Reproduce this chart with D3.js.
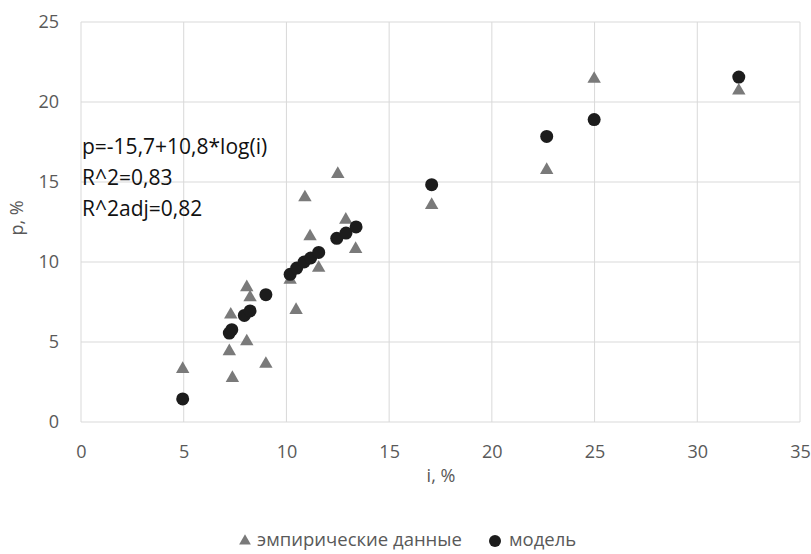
<!DOCTYPE html>
<html>
<head>
<meta charset="utf-8">
<script src="https://cdn.jsdelivr.net/npm/d3@7"></script>
<style>
  body { margin: 0; background: #fff; }
  svg { font-family: "Open Sans", "Liberation Sans", sans-serif; }
</style>
</head>
<body>
<svg id="chart" width="811" height="554"></svg>
<script>
// empirical data (triangles)
const empI = [4.95, 7.22, 7.29, 7.37, 8.07, 8.07, 8.23, 9.0, 10.18, 10.47, 10.9, 11.15, 11.57, 12.5, 12.89, 13.37, 17.07, 22.67, 24.98, 32.02];
const empP = [3.37, 4.48, 6.77, 2.81, 8.48, 5.1, 7.85, 3.69, 8.94, 7.06, 14.1, 11.66, 9.69, 15.56, 12.7, 10.87, 13.62, 15.81, 21.5, 20.77];
// model (circles)
const modI = [4.95, 7.22, 7.34, 7.95, 8.23, 9.0, 10.18, 10.5, 10.86, 11.18, 11.57, 12.45, 12.9, 13.39, 17.07, 22.67, 24.98, 32.02];
const modP = [1.44, 5.56, 5.77, 6.66, 6.94, 7.96, 9.23, 9.62, 10.0, 10.25, 10.6, 11.48, 11.81, 12.19, 14.83, 17.85, 18.9, 21.56];

const xTicks = [0, 5, 10, 15, 20, 25, 30, 35];
const yTicks = [0, 5, 10, 15, 20, 25];
const note = ["p=-15,7+10,8*log(i)", "R^2=0,83", "R^2adj=0,82"];

const svg = d3.select("#chart");
const x = d3.scaleLinear().domain([0, 35]).range([81, 800]);
const y = d3.scaleLinear().domain([0, 25]).range([422, 22]);

// grid
svg.append("g").selectAll("line").data(xTicks).enter().append("line")
  .attr("x1", d => x(d)).attr("x2", d => x(d))
  .attr("y1", y(0)).attr("y2", y(25))
  .attr("stroke", "#d9d9d9").attr("stroke-width", 1);
svg.append("g").selectAll("line").data(yTicks).enter().append("line")
  .attr("x1", x(0)).attr("x2", x(35))
  .attr("y1", d => y(d)).attr("y2", d => y(d))
  .attr("stroke", "#d9d9d9").attr("stroke-width", 1);

// axes
const xAxis = svg.append("g").attr("transform", `translate(0,${y(0)})`)
  .call(d3.axisBottom(x).tickValues(xTicks).tickSize(0).tickPadding(23));
const yAxis = svg.append("g").attr("transform", `translate(${x(0)},0)`)
  .call(d3.axisLeft(y).tickValues(yTicks).tickSize(0).tickPadding(22));
[xAxis, yAxis].forEach(a => {
  a.select(".domain").remove();
  a.selectAll("text").attr("fill", "#595959").style("font-size", "18px")
    .style("font-family", "'Open Sans', 'Liberation Sans', sans-serif");
});

// axis titles
svg.append("text").attr("x", 441).attr("y", 482).attr("text-anchor", "middle")
  .attr("fill", "#595959").style("font-size", "18px").text("i, %");
svg.append("text").attr("transform", "translate(23,218) rotate(-90)")
  .attr("text-anchor", "middle").attr("fill", "#595959").style("font-size", "18px").text("p, %");

// annotation
svg.append("g").selectAll("text").data(note).enter().append("text")
  .attr("x", 82).attr("y", (d, i) => 154 + i * 31)
  .attr("fill", "#111").style("font-size", "21px").text(d => d);

// points
const tri = d3.symbol().type(d3.symbolTriangle).size(78);
svg.append("g").selectAll("path").data(empI).enter().append("path")
  .attr("d", tri)
  .attr("transform", (d, i) => `translate(${x(d)},${y(empP[i]) + 1})`)
  .attr("fill", "#7a7a7a");
svg.append("g").selectAll("circle").data(modI).enter().append("circle")
  .attr("cx", d => x(d)).attr("cy", (d, i) => y(modP[i]))
  .attr("r", 6.5).attr("fill", "#1c1c1c");

// legend
const lg = svg.append("g").style("font-size", "18.5px").attr("fill", "#595959");
lg.append("path").attr("d", d3.symbol().type(d3.symbolTriangle).size(60))
  .attr("transform", "translate(245,541)").attr("fill", "#7a7a7a");
lg.append("text").attr("x", 257).attr("y", 546).text("эмпирические данные");
lg.append("circle").attr("cx", 495).attr("cy", 541).attr("r", 6).attr("fill", "#1c1c1c");
lg.append("text").attr("x", 509).attr("y", 546).text("модель");
</script>
</body>
</html>
